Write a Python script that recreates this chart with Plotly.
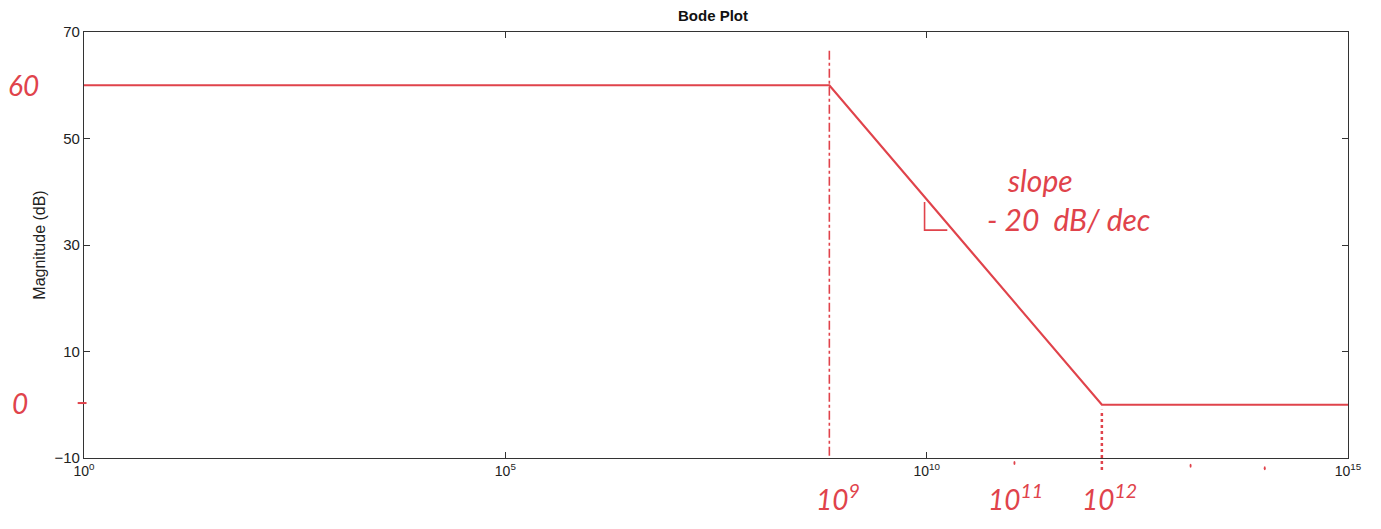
import plotly.graph_objects as go

# Asymptotic Bode magnitude
freq = [1e0, 7e8, 1.2e12, 1e15]
mag_db = [60, 60, 0, 0]

x_tick_vals = [1e0, 1e5, 1e10, 1e15]
x_tick_text = ["10<sup>0</sup>", "10<sup>5</sup>", "10<sup>10</sup>", "10<sup>15</sup>"]
y_tick_vals = [-10, 10, 30, 50, 70]

# hand-written marks (annotation positions on a log axis are given as log10)
corner_freqs = [7e8, 1.2e12]
hand_x_labels = ["10<sup>9</sup>", "10<sup>11</sup>", "10<sup>12</sup>"]
hand_x_log = [8.95, 11.05, 12.17]
hand_y_labels = ["60", "0"]
hand_y_vals = [60, 0.3]
hand_dot_freqs = [10**11.03, 10**13.12, 10**14.0]

RED = "#e0434b"
HAND = dict(family="Lato, sans-serif", size=28, color=RED, style="italic")
YT = dict(family="Liberation Sans, Arial, sans-serif", size=15, color="#222")
XT = dict(family="Liberation Sans, Arial, sans-serif", size=14, color="#222")

fig = go.Figure()
fig.add_trace(go.Scatter(x=freq, y=mag_db, mode="lines",
                         line=dict(color=RED, width=2.2), showlegend=False,
                         hoverinfo="skip"))
# dash-dot vertical at first corner
fig.add_trace(go.Scatter(x=[corner_freqs[0], corner_freqs[0]], y=[66.5, -10],
                         mode="lines", line=dict(color=RED, width=1.6, dash="dashdot"),
                         showlegend=False, hoverinfo="skip"))

# the page body adds an 8 px offset, margins compensate
fig.update_layout(
    width=1381, height=529,
    margin=dict(l=76, r=41, t=24, b=79, autoexpand=False),
    paper_bgcolor="white", plot_bgcolor="white",
    title=dict(text="<b>Bode Plot</b>", x=(713 - 8) / 1381, xanchor="center",
               y=1, yanchor="top", pad=dict(t=2),
               font=dict(family="Liberation Sans, Arial, sans-serif", size=15, color="#111")),
    xaxis=dict(type="log", range=[0, 15], tickvals=x_tick_vals, ticktext=x_tick_text,
               ticks="inside", ticklen=6, tickcolor="#333", showgrid=False, zeroline=False,
               showline=True, linecolor="#333", linewidth=1.2, mirror="ticks",
               tickfont=XT, automargin=False),
    yaxis=dict(range=[-10, 70], tickvals=y_tick_vals, ticks="inside", ticklen=6,
               tickcolor="#333", showgrid=False, zeroline=False, showline=True,
               linecolor="#333", linewidth=1.2, mirror="ticks", tickfont=YT,
               automargin=False,
               title=dict(text="Magnitude (dB)", font=dict(YT, size=16), standoff=4)),
)

# dotted vertical at second corner, extending below the axis
fig.add_shape(type="line", xref="x", yref="paper", x0=corner_freqs[1], x1=corner_freqs[1],
              y0=-0.028, y1=0.113, line=dict(color=RED, width=2.5, dash="dot"))
# hand dots just below the frequency axis
for i, f in enumerate(hand_dot_freqs):
    fig.add_shape(type="circle", xref="x", yref="paper", xsizemode="pixel",
                  ysizemode="pixel", xanchor=f, yanchor=-0.012 - 0.006 * i,
                  x0=-2, x1=2, y0=-2, y1=2, fillcolor=RED, line=dict(width=0))
# small right-angle triangle on the slope
fig.add_shape(type="path", xref="paper", yref="paper",
              path="M 0.665 0.601 L 0.665 0.535 L 0.683 0.535",
              line=dict(color=RED, width=1.6))
# red tick at 0 dB on the left axis
fig.add_shape(type="line", xref="paper", yref="paper", x0=-0.005, x1=0.002,
              y0=0.129, y1=0.129, line=dict(color=RED, width=2))

for lbl, xl in zip(hand_x_labels, hand_x_log):
    fig.add_annotation(x=xl, y=0, xref="x", yref="paper", yshift=-39, text=lbl,
                       showarrow=False, font=HAND, xanchor="center", yanchor="middle")
for lbl, yv, xs in zip(hand_y_labels, hand_y_vals, [-61, -64]):
    fig.add_annotation(x=0, y=yv, xref="paper", yref="y", xshift=xs, text=lbl,
                       showarrow=False, font=HAND, xanchor="center", yanchor="middle")
fig.add_annotation(x=(985 - 84) / 1264, y=1 - (200 - 32) / 426, xref="paper", yref="paper",
                   text="&nbsp;&nbsp;&nbsp;slope<br>- 20  dB/ dec", align="left",
                   showarrow=False, font=dict(HAND, size=30),
                   xanchor="left", yanchor="middle")

fig.write_html("out.html")
